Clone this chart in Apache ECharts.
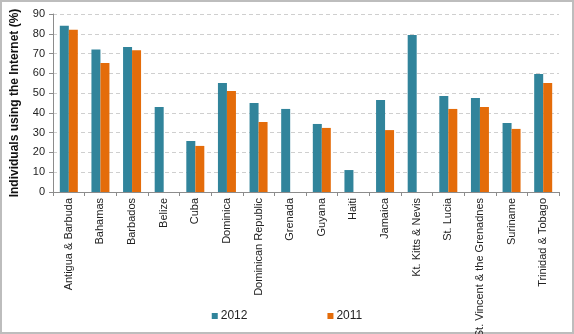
<!DOCTYPE html>
<html><head><meta charset="utf-8">
<script src="https://cdn.jsdelivr.net/npm/echarts@6/dist/echarts.min.js"></script>
<style>html,body{margin:0;padding:0;background:#fff}#c{width:574px;height:334px}</style>
</head><body><div id="c"></div>
<script>
const categories = ["Antigua & Barbuda","Bahamas","Barbados","Belize","Cuba","Dominica","Dominican Republic","Grenada","Guyana","Haiti","Jamaica","Kt. Kitts & Nevis","St. Lucia","St. Vincent & the Grenadnes","Suriname","Trinidad & Tobago"];
const values2012 = [84, 72, 73.3, 43, 25.8, 55.1, 45, 42, 34.4, 11.1, 46.5, 79.4, 48.5, 47.5, 34.9, 59.7];
const values2011 = [82, 65.2, 71.7, null, 23.3, 51.1, 35.4, null, 32.4, null, 31.3, null, 42, 43, 31.9, 55.1];
const yTicks = [0, 10, 20, 30, 40, 50, 60, 70, 80, 90];

const chart = echarts.init(document.getElementById('c'), null, {renderer: 'canvas'});
const font = 'Liberation Sans, Arial, sans-serif';
chart.setOption({
  animation: false,
  textStyle: {fontFamily: font},
  graphic: [{type: 'rect', shape: {x: 1, y: 1, width: 572, height: 332}, style: {fill: 'none', stroke: '#bdbdbd', lineWidth: 2}, silent: true}],
  grid: {left: 53, right: 15, top: 14, bottom: 142, containLabel: false, outerBoundsMode: 'none'},
  legend: {
    bottom: 7, left: 'center', itemWidth: 6, itemHeight: 6, itemGap: 80,
    icon: 'rect',
    textStyle: {fontSize: 12, color: '#222', fontFamily: font, padding: [0,0,0,-2]},
    data: ['2012', '2011']
  },
  xAxis: {
    type: 'category', data: categories,
    axisLine: {lineStyle: {color: '#8c8c8c'}},
    axisTick: {show: true, length: 4, lineStyle: {color: '#8c8c8c'}},
    axisLabel: {rotate: 90, interval: 0, fontSize: 11, color: '#222', margin: 6, fontFamily: font}
  },
  yAxis: {
    type: 'value', min: yTicks[0], max: yTicks[yTicks.length-1], interval: 10,
    name: 'Individuals using the Internet (%)', nameLocation: 'middle', nameGap: 32,
    nameTextStyle: {fontWeight: 'bold', fontSize: 12, color: '#111', fontFamily: font},
    axisLine: {show: true, lineStyle: {color: '#8c8c8c'}},
    axisTick: {show: true, length: 4, lineStyle: {color: '#8c8c8c'}},
    axisLabel: {fontSize: 11, color: '#222', margin: 8, fontFamily: font},
    splitLine: {lineStyle: {color: '#cfcfcf', type: [4, 3], width: 1}}
  },
  series: [
    {name: '2012', type: 'bar', data: values2012, barWidth: 9, barGap: '0%', itemStyle: {color: '#31849B'}},
    {name: '2011', type: 'bar', data: values2011, barWidth: 9, itemStyle: {color: '#E46C0A'}}
  ]
});
</script></body></html>
